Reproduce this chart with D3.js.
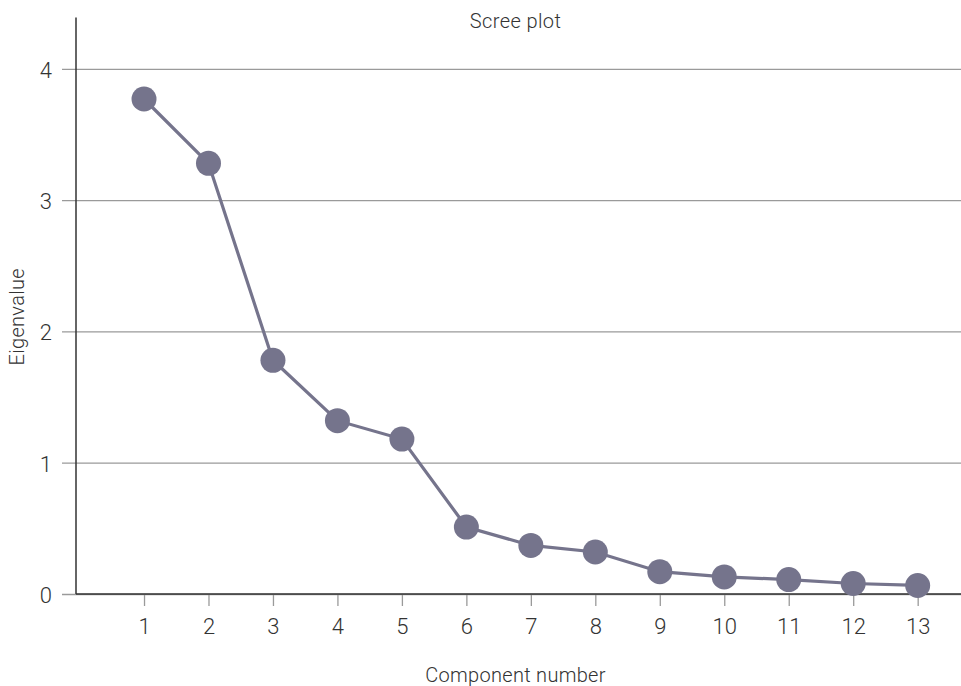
<!DOCTYPE html>
<html>
<head>
<meta charset="utf-8">
<script src="https://cdn.jsdelivr.net/npm/d3@7"></script>
<style>
  html, body { margin: 0; padding: 0; background: #fff; }
  svg { display: block; }
  text { font-family: Roboto, "Liberation Sans", sans-serif; fill: #333; }
</style>
</head>
<body>
<svg id="chart" width="961" height="686"></svg>
<script>
// Scree plot: eigenvalue of each principal component
const components = [1, 2, 3, 4, 5, 6, 7, 8, 9, 10, 11, 12, 13];
const eigenvalues = [3.77, 3.28, 1.78, 1.32, 1.18, 0.51, 0.37, 0.32, 0.17, 0.13, 0.11, 0.08, 0.065];
const yTicks = [0, 1, 2, 3, 4];
const xTicks = components;

const W = 961, H = 686;
const margin = { left: 76, right: 0, top: 17.6, bottom: 92 };
const svg = d3.select("#chart");

const x = d3.scaleLinear().domain([-0.055, 13.672]).range([margin.left, W - margin.right]);
const y = d3.scaleLinear().domain([0, 4.39]).range([H - margin.bottom, margin.top]);

const lineColor = "#75748c";

// horizontal gridlines + y tick labels
const yAxis = d3.axisLeft(y).tickValues(yTicks).tickSize(-(W - margin.left)).tickSizeOuter(0).tickPadding(10).tickFormat(d3.format("d"));
const gy = svg.append("g").attr("transform", `translate(${margin.left},0)`).call(yAxis);
gy.select(".domain").remove();
gy.selectAll(".tick line").attr("stroke", "#9a9a9a").attr("stroke-width", 1.3).attr("x1", -14);
gy.selectAll(".tick text").attr("x", -24).attr("dy", "0.38em").attr("font-size", 22).attr("font-weight", 300).style("fill", "#333");

// x axis ticks and labels
const xAxis = d3.axisBottom(x).tickValues(xTicks).tickSize(12).tickSizeOuter(0).tickPadding(12).tickFormat(d3.format("d"));
const gx = svg.append("g").attr("transform", `translate(0,${y(0)})`).call(xAxis);
gx.select(".domain").remove();
gx.selectAll(".tick line").attr("stroke", "#9a9a9a").attr("stroke-width", 1.3);
gx.selectAll(".tick text").attr("font-size", 22).attr("font-weight", 300).style("fill", "#333");

// axis lines
svg.append("line").attr("x1", x.range()[0]).attr("x2", x.range()[1]).attr("y1", y(0)).attr("y2", y(0))
  .attr("stroke", "#333").attr("stroke-width", 1.5);
svg.append("line").attr("x1", margin.left).attr("x2", margin.left).attr("y1", y.range()[1]).attr("y2", y(0))
  .attr("stroke", "#333").attr("stroke-width", 1.5);

// line and points
const pts = components.map((c, i) => ({ c, v: eigenvalues[i] }));
svg.append("path").datum(pts)
  .attr("fill", "none").attr("stroke", lineColor).attr("stroke-width", 3.2)
  .attr("d", d3.line().x(d => x(d.c)).y(d => y(d.v)));
svg.append("g").selectAll("circle").data(pts).join("circle")
  .attr("cx", d => x(d.c)).attr("cy", d => y(d.v)).attr("r", 12.5)
  .attr("fill", lineColor);

// titles
const midX = (margin.left + W) / 2;
svg.append("text").attr("x", midX - 3).attr("y", 28).attr("text-anchor", "middle")
  .attr("font-size", 20).attr("font-weight", 300).attr("letter-spacing", 0.4).text("Scree plot");
svg.append("text").attr("x", midX - 3).attr("y", 682).attr("text-anchor", "middle")
  .attr("font-size", 20).attr("font-weight", 300).attr("letter-spacing", 0.3).text("Component number");
svg.append("text").attr("transform", `translate(24,${(y.range()[1] + y(0)) / 2 + 11}) rotate(-90)`)
  .attr("text-anchor", "middle").attr("font-size", 20).attr("font-weight", 300).attr("letter-spacing", 0.3).text("Eigenvalue");
</script>
</body>
</html>
